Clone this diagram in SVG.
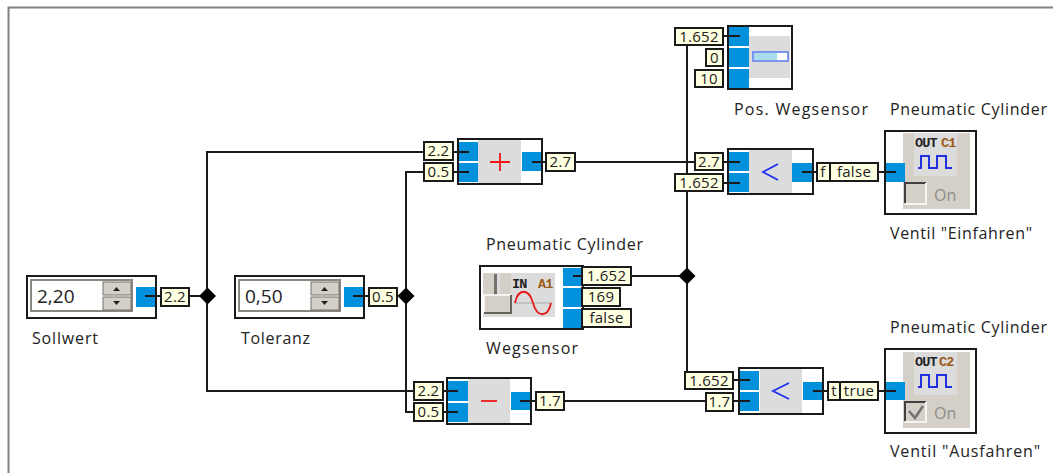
<svg xmlns="http://www.w3.org/2000/svg" width="1053" height="473" viewBox="0 0 1053 473">
<style>
.box{fill:#fff;stroke:#1a1a1a;stroke-width:2}
.grey{fill:#dcdcdc}
.warm{fill:#d4d0c8}
.port{fill:#0090dc}
.tag{fill:#ffffe1;stroke:#1a1a1a;stroke-width:2}
.w{fill:none;stroke:#1a1a1a;stroke-width:2}
.t{font-family:"Open Sans","DejaVu Sans",sans-serif;fill:#222}
.lbl{font-size:16px}
.tv{font-size:15px;text-anchor:middle;letter-spacing:.3px}
.num{font-size:19px}
.on{font-size:16px;fill:#8c8c8c}
.op{fill:none;stroke-width:1.800}
.hd{font-family:"Liberation Mono",monospace;font-weight:bold;font-size:13.500px;letter-spacing:-.8px}
.btn{fill:#d4d0c8;stroke:#77736b;stroke-width:1}
</style>
<defs>
<polygon id="jn" points="0,-8.500 8.500,0 0,8.500 -8.500,0" fill="#000"/>
<path id="pulse" d="M0,12H3V0H11V12H19V0H28V12H34" fill="none" stroke="#2030e0" stroke-width="2"/>
</defs>
<path d="M8.500,473V7.500H1053" fill="none" stroke="#808080" stroke-width="2"/>

<g id="sollwert">
<rect class="box" x="27" y="276" width="129" height="42"/>
<rect x="31" y="280" width="101" height="31" fill="#fff" stroke="#8a8780" stroke-width="2"/>
<rect class="btn" x="103" y="282" width="28" height="13"/><rect class="btn" x="103" y="297" width="28" height="13"/>
<path d="M113,291l3.500,-4 3.500,4zM113,301l3.500,4 3.500,-4z" fill="#222"/>
<text class="t num" x="37" y="303">2,20</text>
<rect class="port" x="136" y="287" width="19" height="20"/>
<rect class="tag" x="161" y="288" width="28" height="18"/>
<text class="t tv" x="175" y="302">2.2</text>
<text class="t lbl" x="32" y="344" textLength="66">Sollwert</text>
</g>

<g id="toleranz">
<rect class="box" x="235" y="276" width="129" height="42"/>
<rect x="239" y="280" width="101" height="31" fill="#fff" stroke="#8a8780" stroke-width="2"/>
<rect class="btn" x="311" y="282" width="28" height="13"/><rect class="btn" x="311" y="297" width="28" height="13"/>
<path d="M321,291l3.500,-4 3.500,4zM321,301l3.500,4 3.500,-4z" fill="#222"/>
<text class="t num" x="245" y="303">0,50</text>
<rect class="port" x="344" y="287" width="19" height="20"/>
<rect class="tag" x="369" y="288" width="28" height="18"/>
<text class="t tv" x="383" y="302">0.5</text>
<text class="t lbl" x="241" y="344" textLength="69">Toleranz</text>
</g>

<g id="add">
<rect class="box" x="458" y="139" width="84" height="45"/>
<rect class="grey" x="478" y="140" width="43" height="43"/>
<rect class="port" x="459" y="142" width="19" height="19"/><rect class="port" x="459" y="163" width="19" height="19"/>
<rect class="port" x="522" y="152" width="19" height="19"/>
<path class="op" stroke="#f01818" d="M490,162H510M500,153V171"/>
<rect class="tag" x="424" y="142" width="29" height="18"/><text class="t tv" x="438.500" y="156">2.2</text>
<rect class="tag" x="424" y="163" width="29" height="18"/><text class="t tv" x="438.500" y="177">0.5</text>
<rect class="tag" x="546" y="153" width="29" height="18"/><text class="t tv" x="560.500" y="167">2.7</text>
</g>

<g id="sub">
<rect class="box" x="447" y="378" width="84" height="46"/>
<rect class="grey" x="468" y="379" width="42" height="44"/>
<rect class="port" x="448" y="381" width="20" height="20"/><rect class="port" x="448" y="403" width="20" height="19"/>
<rect class="port" x="511" y="392" width="19" height="18"/>
<path class="op" stroke="#f01818" stroke-width="2" d="M481,401H497"/>
<rect class="tag" x="414" y="382" width="29" height="18"/><text class="t tv" x="428.500" y="396">2.2</text>
<rect class="tag" x="414" y="403" width="29" height="18"/><text class="t tv" x="428.500" y="417">0.5</text>
<rect class="tag" x="536" y="392" width="28" height="18"/><text class="t tv" x="550" y="406">1.7</text>
</g>

<g id="wegsensor">
<text class="t lbl" x="486" y="250" textLength="157">Pneumatic Cylinder</text>
<rect class="box" x="480" y="266" width="103" height="63"/>
<rect class="grey" x="483" y="273" width="72" height="44"/>
<rect class="warm" x="483" y="273" width="14" height="22"/>
<rect class="warm" x="500" y="273" width="11" height="22"/>
<rect x="494" y="274" width="3" height="21" fill="#77736b"/>
<rect x="484" y="295" width="27" height="18" fill="#d4d0c8"/>
<path d="M484,313V295H511" fill="none" stroke="#fff" stroke-width="1.500"/>
<path d="M484,313H511V295" fill="none" stroke="#66625a" stroke-width="2"/>
<path d="M515,303H552" stroke="#a8a8a8" stroke-width="1" fill="none"/>
<path d="M515,303C518,288 529,288 533,303C537,318 548,318 551,303" fill="none" stroke="#e81818" stroke-width="1.800"/>
<text class="hd" x="512" y="288" fill="#222">IN</text>
<text class="hd" x="538" y="288" fill="#9a5a18">A1</text>
<rect class="port" x="563" y="268" width="19" height="18"/><rect class="port" x="563" y="288" width="19" height="19"/><rect class="port" x="563" y="309" width="19" height="19"/>
<rect class="tag" x="582" y="267" width="49" height="18"/><text class="t tv" x="606.500" y="281">1.652</text>
<rect class="tag" x="582" y="288" width="38" height="18"/><text class="t tv" x="601" y="302">169</text>
<rect class="tag" x="582" y="309" width="49" height="18"/><text class="t tv" x="606.500" y="323">false</text>
<text class="t lbl" x="486" y="354" textLength="92">Wegsensor</text>
</g>

<g id="pos-wegsensor">
<rect class="box" x="728" y="26" width="64" height="63"/>
<rect class="grey" x="749" y="36" width="41" height="42"/>
<rect class="port" x="729" y="27" width="20" height="19"/><rect class="port" x="729" y="48" width="20" height="19"/><rect class="port" x="729" y="69" width="20" height="19"/>
<rect x="753" y="52" width="35" height="9" fill="#fff" stroke="#5a78f0" stroke-width="1.500"/>
<rect x="754" y="53" width="23" height="7" fill="#a8dcec"/>
<rect class="tag" x="675" y="28" width="48" height="17"/><text class="t tv" x="699" y="42">1.652</text>
<rect class="tag" x="706" y="49" width="17" height="17"/><text class="t tv" x="714.500" y="63">0</text>
<rect class="tag" x="695" y="70" width="28" height="17"/><text class="t tv" x="709" y="84">10</text>
<text class="t lbl" x="734" y="115" textLength="134">Pos. Wegsensor</text>
</g>

<g id="less-1">
<rect class="box" x="728" y="149" width="85" height="45"/>
<rect class="grey" x="749" y="150" width="43" height="43"/>
<rect class="port" x="729" y="152" width="20" height="19"/><rect class="port" x="729" y="173" width="20" height="19"/>
<rect class="port" x="792" y="163" width="20" height="19"/>
<path class="op" stroke="#2030f0" d="M778,164L763,172L778,180"/>
<rect class="tag" x="695" y="153" width="28" height="17"/><text class="t tv" x="709" y="167">2.7</text>
<rect class="tag" x="675" y="174" width="48" height="17"/><text class="t tv" x="699" y="188">1.652</text>
<rect class="tag" x="817" y="163" width="13" height="18"/><text class="t tv" x="823" y="177">f</text>
</g>

<g id="less-2">
<rect class="box" x="739" y="368" width="84" height="46"/>
<rect class="grey" x="760" y="369" width="42" height="44"/>
<rect class="port" x="740" y="371" width="19" height="19"/><rect class="port" x="740" y="392" width="19" height="19"/>
<rect class="port" x="803" y="382" width="19" height="18"/>
<path class="op" stroke="#2030f0" d="M789,383L773,391L789,399"/>
<rect class="tag" x="685" y="372" width="48" height="17"/><text class="t tv" x="709" y="386">1.652</text>
<rect class="tag" x="706" y="393" width="27" height="18"/><text class="t tv" x="719.500" y="407">1.7</text>
<rect class="tag" x="828" y="382" width="12" height="18"/><text class="t tv" x="834" y="396">t</text>
</g>

<g id="ventil-einfahren">
<text class="t lbl" x="890" y="115" textLength="157">Pneumatic Cylinder</text>
<rect class="box" x="885" y="131" width="91" height="83"/>
<rect class="warm" x="903" y="133" width="67" height="76"/>
<rect class="grey" x="914" y="133" width="43" height="43"/>
<rect class="port" x="886" y="163" width="19" height="19"/>
<use href="#pulse" x="918" y="156"/>
<text class="hd" x="915" y="147" fill="#222">OUT</text><text class="hd" x="941" y="147" fill="#9a5a18">C1</text>
<path d="M905,203V183H926" fill="none" stroke="#404040" stroke-width="2"/>
<path d="M926,183V204H905" fill="none" stroke="#f4f4f0" stroke-width="2"/>
<text class="t on" x="934" y="201">On</text>
<rect class="tag" x="830" y="163" width="48" height="18"/><text class="t tv" x="854" y="177">false</text>
<text class="t lbl" x="890" y="239" textLength="142">Ventil "Einfahren"</text>
</g>

<g id="ventil-ausfahren">
<text class="t lbl" x="890" y="333" textLength="157">Pneumatic Cylinder</text>
<rect class="box" x="885" y="349" width="91" height="84"/>
<rect class="warm" x="903" y="352" width="67" height="76"/>
<rect class="grey" x="914" y="352" width="43" height="43"/>
<rect class="port" x="886" y="382" width="19" height="18"/>
<use href="#pulse" x="918" y="375"/>
<text class="hd" x="915" y="366" fill="#222">OUT</text><text class="hd" x="939" y="366" fill="#9a5a18">C2</text>
<path d="M905,421V402H926" fill="none" stroke="#404040" stroke-width="2"/>
<path d="M926,402V422H905" fill="none" stroke="#f4f4f0" stroke-width="2"/>
<path d="M909,411L915,418L923,406" fill="none" stroke="#707070" stroke-width="2.500"/>
<text class="t on" x="934" y="419">On</text>
<rect class="tag" x="840" y="382" width="38" height="18"/><text class="t tv" x="859" y="396">true</text>
<text class="t lbl" x="890" y="457" textLength="150">Ventil "Ausfahren"</text>
</g>

<g id="connectors" class="w">
<path d="M145,296H161M189,296H207"/>
<path d="M353,296H369"/>
<path d="M424,152H207V391H414"/>
<path d="M424,172H406V412H414"/>
<path d="M453,152H469M453,172H469M532,162H546"/>
<path d="M443,391H458M443,412H458M520,401H536"/>
<path d="M575,162H695M723,162H740M723,183H740"/>
<path d="M564,401H706M733,380H750M733,401H750"/>
<path d="M631,276H687"/>
<path d="M687,45V174M687,191V372"/>
<path d="M723,36H740"/>
<path d="M802,172H817M878,172H896"/>
<path d="M813,391H828M878,391H896"/>
<path d="M573,276H582"/>
<use href="#jn" x="207.500" y="296" stroke="none"/>
<use href="#jn" x="406" y="296" stroke="none"/>
<use href="#jn" x="687" y="276" stroke="none"/>
</g>
</svg>
